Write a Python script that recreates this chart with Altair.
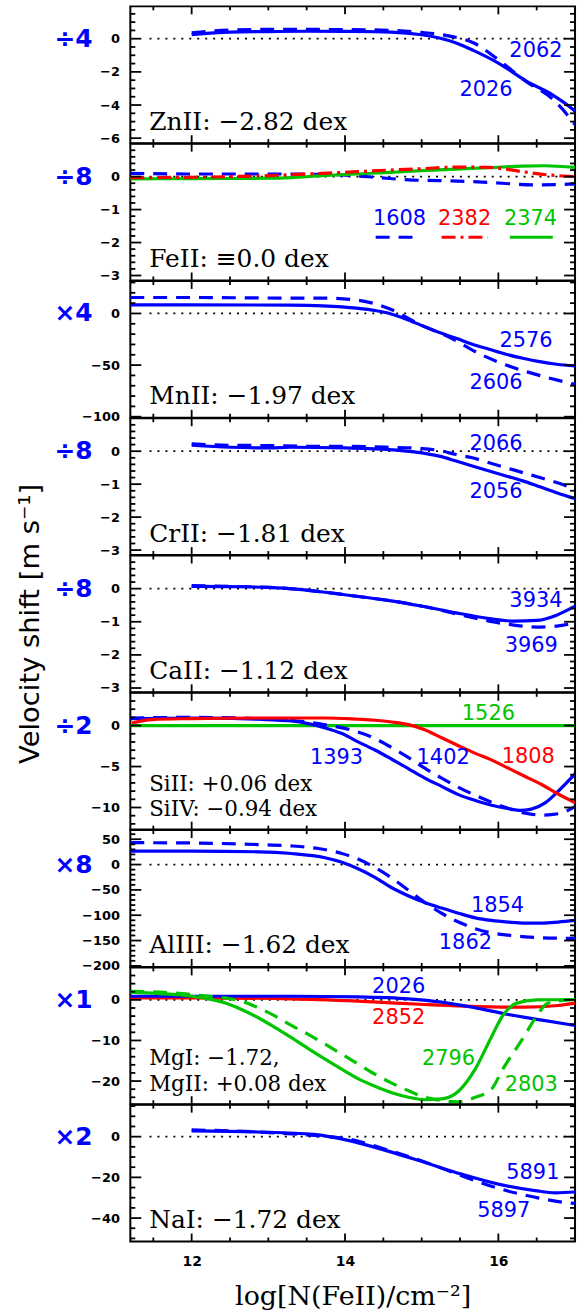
import altair as alt
import numpy as np
import pandas as pd

BLUE, RED, GREEN = "#0000ff", "#ff0000", "#00c400"
DASHED, DASHDOT = [14, 9], [14, 5, 3, 5]

X_DOMAIN = [11.2, 17.0]
ZERO_FROM = 11.45
W, H = 447, 137.5

# ---------------- series: x = log N(FeII), v = velocity shift ----------------
# ZnII
zn2026_x = [12.0, 12.5, 13.0, 13.5, 14.0, 14.6, 15.0, 15.23, 15.45, 15.68, 16.0, 16.37, 16.7, 16.95, 17.0]
zn2026_v = [0.25, 0.4, 0.43, 0.45, 0.44, 0.4, 0.24, 0.04, -0.26, -0.72, -1.47, -2.57, -3.37, -4.18, -4.38]
zn2062_x = [12.0, 12.5, 13.0, 13.5, 14.0, 14.6, 15.0, 15.35, 15.68, 16.0, 16.37, 16.7, 16.95, 17.0]
zn2062_v = [0.35, 0.52, 0.56, 0.56, 0.55, 0.5, 0.38, 0.17, -0.26, -1.27, -2.61, -3.61, -4.88, -5.18]

# FeII
fe1608_x = [11.2, 12.0, 13.0, 13.7, 14.1, 14.45, 14.83, 15.22, 15.64, 16.05, 16.44, 16.92, 17.0]
fe1608_v = [0.1, 0.08, 0.08, 0.07, 0.03, -0.03, -0.1, -0.12, -0.15, -0.2, -0.25, -0.23, -0.22]
fe2382_x = [11.2, 12.0, 12.5, 13.0, 13.3, 13.7, 14.15, 14.6, 15.0, 15.45, 15.88, 16.31, 16.66, 17.0]
fe2382_v = [-0.03, -0.02, 0.0, 0.03, 0.06, 0.1, 0.15, 0.2, 0.24, 0.29, 0.28, 0.15, 0.05, 0.0]
fe2374_x = [11.2, 12.0, 13.0, 13.3, 13.7, 14.15, 14.6, 15.0, 15.45, 15.88, 16.3, 16.6, 17.0]
fe2374_v = [-0.07, -0.06, -0.05, -0.03, 0.03, 0.08, 0.13, 0.18, 0.23, 0.27, 0.32, 0.33, 0.28]

# MnII
mn2576_x = [11.2, 12.0, 13.28, 13.71, 14.15, 14.41, 14.58, 14.8, 15.01, 15.23, 15.45, 15.66, 15.88, 16.1, 16.32, 16.54, 16.76, 17.0]
mn2576_v = [8.4, 8.4, 8.1, 7.4, 5.2, 2.6, 0.0, -5.5, -12.0, -18.5, -24.0, -29.8, -34.7, -39.5, -43.4, -46.7, -49.2, -50.9]
mn2606_x = [11.2, 12.0, 13.28, 13.71, 14.15, 14.58, 14.95, 15.37, 15.75, 16.1, 16.41, 16.87, 17.0]
mn2606_v = [15.5, 15.5, 14.9, 14.9, 13.0, 4.6, -9.7, -23.4, -38.9, -50.0, -57.3, -66.4, -68.7]

# CrII
cr2056_x = [12.0, 12.5, 13.0, 13.28, 14.0, 14.58, 14.9, 15.23, 15.45, 15.66, 15.88, 16.1, 16.32, 16.54, 16.76, 17.0]
cr2056_v = [0.18, 0.12, 0.1, 0.12, 0.1, 0.05, -0.02, -0.15, -0.3, -0.45, -0.6, -0.75, -0.9, -1.08, -1.26, -1.44]
cr2066_x = [12.0, 12.5, 13.0, 13.5, 14.0, 14.58, 15.01, 15.23, 15.45, 15.66, 15.88, 16.1, 16.32, 16.54, 16.76, 17.0]
cr2066_v = [0.22, 0.18, 0.17, 0.15, 0.15, 0.12, 0.08, 0.02, -0.1, -0.2, -0.35, -0.5, -0.65, -0.8, -0.95, -1.15]

# CaII
ca3934_x = [12.0, 12.5, 13.0, 13.28, 13.71, 14.15, 14.58, 15.01, 15.45, 15.88, 16.2, 16.5, 16.76, 17.0]
ca3934_v = [0.07, 0.06, 0.04, 0.0, -0.1, -0.23, -0.36, -0.53, -0.73, -0.9, -0.98, -0.96, -0.8, -0.53]
ca3969_x = [12.0, 12.5, 13.0, 13.28, 13.71, 14.15, 14.58, 15.01, 15.45, 15.88, 16.2, 16.5, 16.76, 17.0]
ca3969_v = [0.09, 0.07, 0.04, 0.0, -0.1, -0.23, -0.36, -0.53, -0.76, -0.98, -1.1, -1.16, -1.13, -1.03]

# SiII / SiIV
si1526_x = [11.2, 17.0]
si1526_v = [0.0, 0.0]
si1808_x = [11.22, 11.48, 12.0, 12.87, 13.74, 14.17, 14.39, 14.61, 14.83, 15.04, 15.26, 15.48, 15.7, 15.91, 16.13, 16.35, 16.57, 16.78, 17.0]
si1808_v = [0.32, 0.73, 0.85, 0.93, 0.93, 0.77, 0.65, 0.44, 0.12, -0.5, -1.49, -2.46, -3.39, -4.19, -5.2, -6.21, -7.22, -8.35, -9.4]
si1393_x = [11.2, 12.0, 12.87, 13.3, 13.52, 13.74, 13.96, 14.17, 14.39, 14.61, 14.83, 15.04, 15.26, 15.48, 15.7, 15.91, 16.13, 16.28, 16.43, 16.61, 16.78, 17.0]
si1393_v = [0.85, 0.93, 0.77, 0.56, 0.24, -0.28, -0.97, -1.98, -2.98, -4.11, -5.28, -6.41, -7.42, -8.43, -9.15, -9.72, -10.12, -10.36, -10.2, -9.44, -8.02, -5.9]
si1402_x = [11.2, 12.0, 12.87, 13.3, 13.57, 13.83, 14.09, 14.39, 14.61, 14.83, 15.04, 15.26, 15.48, 15.7, 15.91, 16.13, 16.35, 16.57, 16.78, 17.0]
si1402_v = [0.93, 1.0, 0.85, 0.65, 0.36, -0.04, -0.56, -1.57, -2.7, -3.91, -5.2, -6.41, -7.54, -8.51, -9.35, -10.12, -10.69, -10.93, -10.77, -9.9]

# AlIII
al1854_x = [11.2, 12.0, 12.87, 13.3, 13.74, 13.96, 14.17, 14.39, 14.61, 14.83, 15.04, 15.26, 15.48, 15.7, 15.91, 16.13, 16.35, 16.57, 16.78, 17.0]
al1854_v = [26.5, 26.5, 25.2, 21.9, 13.5, 4.5, -8.4, -25.2, -45.8, -61.9, -74.8, -85.8, -96.1, -105.2, -110.3, -113.5, -115.5, -115.5, -113.5, -110.3]
al1862_x = [11.2, 12.0, 12.87, 13.3, 13.65, 13.96, 14.17, 14.39, 14.61, 14.83, 15.04, 15.26, 15.48, 15.7, 15.91, 16.13, 16.35, 16.57, 17.0]
al1862_v = [43.2, 42.6, 39.4, 36.8, 31.6, 21.9, 11.0, -5.8, -26.5, -51.0, -74.8, -96.1, -113.5, -126.5, -134.8, -139.4, -142.6, -144.5, -145.8]

# MgI / MgII
mg2026_x = [11.2, 12.0, 13.3, 14.17, 14.83, 15.26, 15.7, 16.13, 16.57, 17.0]
mg2026_v = [0.9, 0.9, 0.9, 0.73, 0.24, -0.57, -1.96, -3.59, -4.98, -6.3]
mg2852_x = [11.2, 12.0, 13.3, 14.17, 15.04, 15.91, 16.35, 16.78, 17.0]
mg2852_v = [0.49, 0.49, 0.24, -0.33, -1.14, -1.71, -1.8, -1.39, -0.8]
mg2796_x = [11.2, 11.57, 12.0, 12.22, 12.43, 12.65, 12.87, 13.09, 13.3, 13.52, 13.74, 13.96, 14.17, 14.39, 14.61, 14.83, 15.04, 15.26, 15.48, 15.7, 15.9, 16.06, 16.24, 16.5, 17.0]
mg2796_v = [1.9, 1.55, 0.9, 0.24, -0.73, -2.37, -4.41, -6.86, -9.31, -12.0, -14.6, -17.1, -19.4, -21.3, -22.9, -24.0, -24.6, -24.4, -22.5, -17.0, -9.5, -3.8, -0.8, 0.0, 0.1]
mg2803_x = [11.2, 11.78, 12.22, 12.43, 12.65, 12.87, 13.09, 13.3, 13.52, 13.74, 13.96, 14.17, 14.39, 14.61, 14.83, 15.04, 15.26, 15.48, 15.7, 15.91, 16.06, 16.32, 16.5, 16.63, 16.8, 17.0]
mg2803_v = [2.1, 1.7, 0.9, 0.49, -0.33, -1.96, -4.0, -6.29, -8.49, -10.9, -13.4, -15.8, -18.3, -20.5, -22.4, -24.0, -24.8, -25.1, -24.0, -22.0, -17.0, -9.5, -4.0, -1.0, -0.2, 0.1]

# NaI
na5891_x = [12.0, 12.87, 13.59, 14.07, 14.55, 15.04, 15.52, 16.0, 16.48, 16.75, 17.0]
na5891_v = [2.8, 2.3, 1.1, -2.1, -7.0, -12.7, -18.4, -23.3, -26.5, -27.6, -27.2]
na5897_x = [12.0, 12.87, 13.5, 14.07, 14.55, 15.04, 15.52, 16.0, 16.48, 16.9, 17.0]
na5897_v = [3.3, 2.3, 0.8, -1.3, -6.5, -12.4, -19.2, -25.4, -29.8, -32.5, -32.8]

# key segments of the FeII panel
fe_key = [([14.4, 14.97], BLUE, DASHED), ([15.26, 15.86], RED, DASHDOT), ([16.15, 16.71], GREEN, None)]
fe_key_v = -1.84

PANELS = [
    dict(domain=[-6.3, 1.95], major=2, minor=0.5, factor="÷4",
         names=["ZnII: −2.82 dex"],
         series=[(zn2062_x, zn2062_v, BLUE, DASHED), (zn2026_x, zn2026_v, BLUE, None)],
         labels=[("2062", 16.49, -0.72, BLUE), ("2026", 15.84, -3.07, BLUE)]),
    dict(domain=[-3.15, 1.0], major=1, minor=0.2, factor="÷8",
         names=["FeII: ≡0.0 dex"],
         series=[(fe1608_x, fe1608_v, BLUE, DASHED), (fe2374_x, fe2374_v, GREEN, None),
                 (fe2382_x, fe2382_v, RED, DASHDOT)],
         labels=[("1608", 14.71, -1.29, BLUE), ("2382", 15.56, -1.29, RED), ("2374", 16.42, -1.29, GREEN)],
         key=True),
    dict(domain=[-101, 31.5], major=50, minor=10, factor="×4",
         names=["MnII: −1.97 dex"],
         series=[(mn2606_x, mn2606_v, BLUE, DASHED), (mn2576_x, mn2576_v, BLUE, None)],
         labels=[("2576", 16.36, -26.5, BLUE), ("2606", 15.97, -67.0, BLUE)]),
    dict(domain=[-3.15, 1.0], major=1, minor=0.2, factor="÷8",
         names=["CrII: −1.81 dex"],
         series=[(cr2066_x, cr2066_v, BLUE, DASHED), (cr2056_x, cr2056_v, BLUE, None)],
         labels=[("2066", 15.97, 0.22, BLUE), ("2056", 15.97, -1.23, BLUE)]),
    dict(domain=[-3.13, 1.0], major=1, minor=0.2, factor="÷8",
         names=["CaII: −1.12 dex"],
         series=[(ca3969_x, ca3969_v, BLUE, DASHED), (ca3934_x, ca3934_v, BLUE, None)],
         labels=[("3934", 16.49, -0.36, BLUE), ("3969", 16.43, -1.73, BLUE)],
         ytitle=True),
    dict(domain=[-12.7, 4.0], major=5, minor=1, factor="÷2",
         names=["SiII: +0.06 dex", "SiIV: −0.94 dex"],
         series=[(si1526_x, si1526_v, GREEN, None), (si1402_x, si1402_v, BLUE, DASHED),
                 (si1393_x, si1393_v, BLUE, None), (si1808_x, si1808_v, RED, None)],
         labels=[("1526", 15.87, 1.45, GREEN), ("1393", 13.89, -4.0, BLUE),
                 ("1402", 15.28, -4.0, BLUE), ("1808", 16.39, -3.8, RED)]),
    dict(domain=[-202, 68], major=50, minor=10, factor="×8",
         names=["AlIII: −1.62 dex"],
         series=[(al1862_x, al1862_v, BLUE, DASHED), (al1854_x, al1854_v, BLUE, None)],
         labels=[("1854", 15.99, -82.6, BLUE), ("1862", 15.57, -155.5, BLUE)]),
    dict(domain=[-25.7, 8.0], major=10, minor=2, factor="×1",
         names=["MgI: −1.72,", "MgII: +0.08 dex"],
         series=[(mg2852_x, mg2852_v, RED, None), (mg2026_x, mg2026_v, BLUE, None),
                 (mg2803_x, mg2803_v, GREEN, DASHED), (mg2796_x, mg2796_v, GREEN, None)],
         labels=[("2026", 14.7, 3.2, BLUE), ("2852", 14.7, -4.4, RED),
                 ("2796", 15.35, -14.6, GREEN), ("2803", 16.43, -21.1, GREEN)]),
    dict(domain=[-51.5, 15.7], major=20, minor=5, factor="×2",
         names=["NaI: −1.72 dex"],
         series=[(na5897_x, na5897_v, BLUE, DASHED), (na5891_x, na5891_v, BLUE, None)],
         labels=[("5891", 16.45, -17.9, BLUE), ("5897", 16.07, -36.3, BLUE)]),
]


def tick_values(lo, hi, step, skip=None):
    start = np.ceil(lo / step) * step
    vals = []
    for t in np.arange(start, hi + step, step):
        t = round(float(t), 6)
        if not (lo + 1e-6 < t < hi - 1e-6):
            continue
        if skip and abs(t / skip - round(t / skip)) < 1e-6:
            continue
        vals.append(t)
    return vals


def build_panel(p, last):
    lo, hi = p["domain"]
    xs = alt.Scale(domain=X_DOMAIN, nice=False, zero=False)
    ys = alt.Scale(domain=[lo, hi], nice=False, zero=False)
    y_major = tick_values(lo, hi, p["major"])
    y_minor = tick_values(lo, hi, p["minor"], skip=p["major"])
    x_major = tick_values(X_DOMAIN[0], X_DOMAIN[1], 2)
    x_minor = tick_values(X_DOMAIN[0], X_DOMAIN[1], 0.5, skip=2)

    yaxis = alt.Axis(values=y_major, ticks=False, domain=False, grid=False, tickSize=0,
                     labelPadding=11, labelFont="DejaVu Sans", labelFontWeight="bold",
                     labelFontSize=13, labelColor="black", labelOverlap=False, title=None)
    if last:
        xaxis = alt.Axis(values=x_major, ticks=False, domain=False, grid=False, tickSize=0,
                         labelPadding=13, labelFont="DejaVu Sans", labelFontWeight="bold",
                         labelFontSize=14, labelColor="black", labelFlush=False,
                         labelOverlap=False, title="log[N(FeII)/cm⁻²]",
                         titleFont="DejaVu Serif", titleFontSize=27, titleFontWeight="normal",
                         titleColor="black", titlePadding=15)
    else:
        xaxis = None

    X = lambda f: alt.X(f, scale=xs, axis=xaxis)
    Y = lambda f: alt.Y(f, scale=ys, axis=yaxis)

    layers = []
    # dotted zero reference
    zero = pd.DataFrame({"a": [ZERO_FROM], "b": [X_DOMAIN[1]], "z": [0.0]})
    layers.append(alt.Chart(zero).mark_rule(color="black", strokeWidth=1.8, strokeDash=[2, 6])
                  .encode(x=X("a:Q"), x2="b:Q", y=Y("z:Q")))

    # velocity-shift curves
    for xv, vv, col, dash in p["series"]:
        df = pd.DataFrame({"x": xv, "v": vv})
        kw = dict(color=col, strokeWidth=3.2, interpolate="monotone", clip=True)
        if dash:
            kw["strokeDash"] = dash
        layers.append(alt.Chart(df).mark_line(**kw).encode(x=X("x:Q"), y=Y("v:Q")))

    if p.get("key"):
        for kx, col, dash in fe_key:
            df = pd.DataFrame({"x": kx, "v": [fe_key_v] * len(kx)})
            kw = dict(color=col, strokeWidth=3.2)
            if dash:
                kw["strokeDash"] = dash
            layers.append(alt.Chart(df).mark_line(**kw).encode(x=X("x:Q"), y=Y("v:Q")))

    # inward ticks on all four sides
    for vals, ln in ((y_major, 11), (y_minor, 5)):
        df = pd.DataFrame({"t": vals})
        base = alt.Chart(df).mark_rule(color="black", strokeWidth=1.8)
        layers.append(base.encode(y=Y("t:Q"), x=alt.value(0), x2=alt.value(ln)))
        layers.append(base.encode(y=Y("t:Q"), x=alt.value(W), x2=alt.value(W - ln)))
    for vals, ln in ((x_major, 8), (x_minor, 4)):
        df = pd.DataFrame({"t": vals})
        base = alt.Chart(df).mark_rule(color="black", strokeWidth=1.8)
        layers.append(base.encode(x=X("t:Q"), y=alt.value(0), y2=alt.value(ln)))
        layers.append(base.encode(x=X("t:Q"), y=alt.value(H), y2=alt.value(H - ln)))

    # transition labels
    lab = pd.DataFrame(p["labels"], columns=["t", "x", "v", "c"])
    layers.append(alt.Chart(lab).mark_text(font="DejaVu Sans", fontSize=21, align="center",
                                           baseline="middle")
                  .encode(x=X("x:Q"), y=Y("v:Q"), text="t:N", color=alt.Color("c:N", scale=None)))

    # scaling factor on the left
    fac = pd.DataFrame({"t": [p["factor"]], "z": [0.0]})
    layers.append(alt.Chart(fac).mark_text(font="DejaVu Sans", fontWeight="bold", fontSize=25,
                                           color=BLUE, align="right", baseline="middle")
                  .encode(y=Y("z:Q"), x=alt.value(-38), text="t:N"))

    # ion name(s) and abundance offsets
    names = p["names"]
    size = 25 if len(names) == 1 else 21.5
    for i, nm in enumerate(names):
        yb = 124 - 25.5 * (len(names) - 1 - i)
        layers.append(alt.Chart(pd.DataFrame({"t": [nm]}))
                      .mark_text(font="DejaVu Serif", fontSize=size, color="black",
                                 align="left", baseline="alphabetic")
                      .encode(x=alt.value(19), y=alt.value(yb), text="t:N"))

    if p.get("ytitle"):
        layers.append(alt.Chart(pd.DataFrame({"t": ["Velocity shift [m s⁻¹]"]}))
                      .mark_text(font="DejaVu Sans", fontSize=27.5, color="black", angle=270,
                                 align="center", baseline="middle")
                      .encode(x=alt.value(-100), y=alt.value(H / 2), text="t:N"))

    return alt.layer(*layers).properties(width=W, height=H)


charts = [build_panel(p, i == len(PANELS) - 1) for i, p in enumerate(PANELS)]
chart = (alt.vconcat(*charts, spacing=0, bounds="flush")
         .properties(padding={"left": 16, "top": 1, "right": 3, "bottom": 2},
                     background="white")
         .configure_view(stroke="black", strokeWidth=2))

chart.save("out.html", embed_options={"renderer": "svg", "actions": False})
